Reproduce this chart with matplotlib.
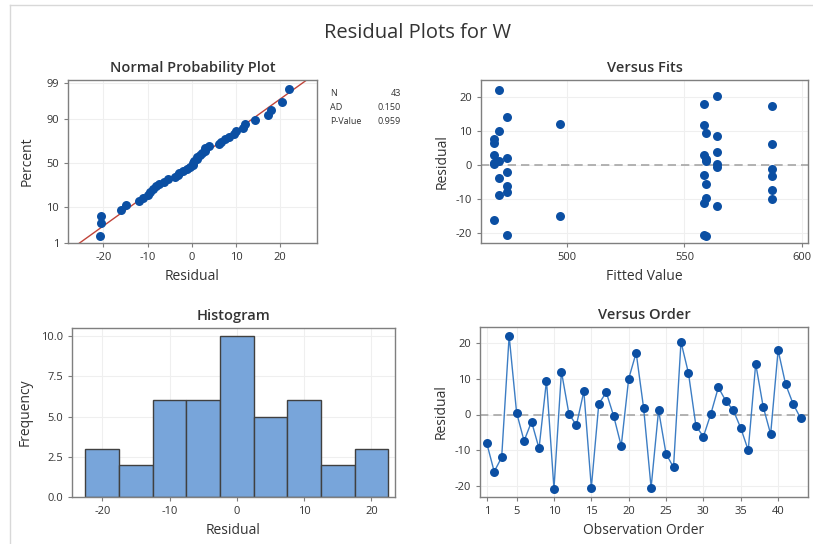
import matplotlib
matplotlib.use("Agg")
import matplotlib.pyplot as plt
import numpy as np
from statistics import NormalDist
from matplotlib.lines import Line2D

plt.rcParams['font.family'] = ['Open Sans', 'DejaVu Sans']
plt.rcParams['axes.unicode_minus'] = False

# ---------------- data ----------------
observation = list(range(1, 44))
residuals = [-8.0, -16.0, -12.0, 22.0, 0.5, -7.4, -2.0, -9.5, 9.5, -20.8,
             12.0, 0.2, -3.0, 6.5, -20.5, 3.0, 6.2, -0.5, -8.8, 10.0,
             17.3, 1.8, -20.5, 1.2, -11.0, -14.8, 20.3, 11.6, -3.2, -6.2,
             0.2, 7.6, 3.8, 1.2, -3.8, -10.0, 14.2, 2.2, -5.5, 18.0,
             8.5, 3.0, -1.0]
fitted = [474.5, 469.0, 564.0, 471.0, 469.0, 587.0, 474.5, 559.3, 559.3, 559.3,
          497.0, 469.0, 558.3, 469.0, 474.5, 469.0, 587.0, 564.0, 471.0, 471.0,
          587.0, 559.3, 558.3, 471.0, 558.3, 497.0, 564.0, 558.3, 587.0, 474.5,
          564.0, 469.0, 564.0, 559.3, 471.0, 587.0, 474.5, 474.5, 559.3, 558.3,
          564.0, 558.3, 587.0]
hist_centers = [-20, -15, -10, -5, 0, 5, 10, 15, 20]
hist_counts = [3, 2, 6, 6, 10, 5, 6, 2, 3]
prob_ticks = [1, 10, 50, 90, 99]
stats_labels = ["N", "AD", "P-Value"]
stats_values = ["43", "0.150", "0.959"]

# ---------------- style ----------------
W, H = 813, 544
fig = plt.figure(figsize=(W / 100, H / 100), dpi=100)
fig.patch.set_facecolor("white")

PT_COLOR = "#0B4FA3"
LINE_COLOR = "#3C7DC4"
BAR_COLOR = "#78A5DA"
SPINE = "#7F7F7F"
TXT = "#333333"
GRID = "#EFEFEF"
MS = 42


def px_axes(l, t, r, b):
    return fig.add_axes([l / W, 1 - b / H, (r - l) / W, (b - t) / H])


def style(ax):
    for s in ax.spines.values():
        s.set_color(SPINE)
        s.set_linewidth(1.0)
    ax.tick_params(colors=SPINE, labelcolor=TXT, labelsize=8, length=3, width=0.8)
    ax.grid(True, color=GRID, linewidth=0.8)
    ax.set_axisbelow(True)


def title(ax, text):
    ax.set_title(text, fontsize=10.5, color=TXT, fontweight="semibold", pad=6)


# frame lines
fig.add_artist(Line2D([10 / W, 1], [1 - 4.5 / H, 1 - 4.5 / H], color="#D8D8D8", lw=1.0))
fig.add_artist(Line2D([10 / W, 10 / W], [0, 1 - 4.5 / H], color="#D8D8D8", lw=1.0))

fig.text(418 / W, 1 - 33 / H, "Residual Plots for W", ha="center", va="center",
         fontsize=14.5, color=TXT)

# ---------------- Normal probability plot ----------------
nd = NormalDist()
ax1 = px_axes(68, 80, 317, 243)
style(ax1)
srt = np.sort(np.array(residuals))
n = len(srt)
pp = [(i - 0.3) / (n + 0.4) for i in range(1, n + 1)]
zq = np.array([nd.inv_cdf(p) for p in pp])
mu = float(np.mean(srt))
sd = float(np.std(srt, ddof=1))
xl = np.array([-28, 28])
ax1.plot(xl, (xl - mu) / sd, color="#C0443A", lw=1.0, zorder=2)
ax1.scatter(srt, zq, s=MS, color=PT_COLOR, zorder=3, linewidths=0)
ax1.set_xlim(-28, 28.3)
ax1.set_ylim(-2.33, 2.40)
ax1.set_yticks([nd.inv_cdf(p / 100) for p in prob_ticks])
ax1.set_yticklabels([str(p) for p in prob_ticks])
ax1.set_xticks([-20, -10, 0, 10, 20])
ax1.set_xlabel("Residual", fontsize=10, color=TXT, labelpad=4)
ax1.set_ylabel("Percent", fontsize=10, color=TXT, labelpad=8)
title(ax1, "Normal Probability Plot")

for i, (lab, val) in enumerate(zip(stats_labels, stats_values)):
    y = 1 - (93 + i * 14.5) / H
    fig.text(330 / W, y, lab, fontsize=6.5, color=TXT, va="center", ha="left")
    fig.text(401 / W, y, val, fontsize=6.5, color=TXT, va="center", ha="right")

# ---------------- Versus Fits ----------------
ax2 = px_axes(481, 80, 808, 243)
style(ax2)
ax2.axhline(0, color="#A6A6A6", lw=1.2, ls=(0, (5, 3)), zorder=1)
ax2.scatter(fitted, residuals, s=MS, color=PT_COLOR, zorder=3, linewidths=0)
ax2.set_xlim(463.5, 602.5)
ax2.set_ylim(-22.8, 24.9)
ax2.set_xticks([500, 550, 600])
ax2.set_yticks([-20, -10, 0, 10, 20])
ax2.set_xlabel("Fitted Value", fontsize=10, color=TXT, labelpad=4)
ax2.set_ylabel("Residual", fontsize=10, color=TXT, labelpad=4)
title(ax2, "Versus Fits")

# ---------------- Histogram ----------------
ax3 = px_axes(72, 328, 395, 497)
style(ax3)
ax3.bar(hist_centers, hist_counts, width=5, color=BAR_COLOR, edgecolor="#404040",
        linewidth=1.0, zorder=2)
ax3.set_xlim(-24.5, 23.5)
ax3.set_ylim(0, 10.5)
ax3.set_xticks([-20, -10, 0, 10, 20])
ax3.set_yticks([0, 2.5, 5, 7.5, 10])
ax3.set_yticklabels(["0.0", "2.5", "5.0", "7.5", "10.0"])
ax3.set_xlabel("Residual", fontsize=10, color=TXT, labelpad=4)
ax3.set_ylabel("Frequency", fontsize=10, color=TXT, labelpad=6)
title(ax3, "Histogram")

# ---------------- Versus Order ----------------
ax4 = px_axes(480, 327, 808, 497)
style(ax4)
ax4.axhline(0, color="#A6A6A6", lw=1.2, ls=(0, (5, 3)), zorder=1)
ax4.plot(observation, residuals, color=LINE_COLOR, lw=1.0, zorder=2)
ax4.scatter(observation, residuals, s=MS, color=PT_COLOR, zorder=3, linewidths=0)
ax4.set_xlim(0.1, 44)
ax4.set_ylim(-23.1, 24.5)
ax4.set_xticks([1, 5, 10, 15, 20, 25, 30, 35, 40])
ax4.set_yticks([-20, -10, 0, 10, 20])
ax4.set_xlabel("Observation Order", fontsize=10, color=TXT, labelpad=4)
ax4.set_ylabel("Residual", fontsize=10, color=TXT, labelpad=4)
title(ax4, "Versus Order")

fig.savefig("out.png", dpi=100, facecolor="white")
